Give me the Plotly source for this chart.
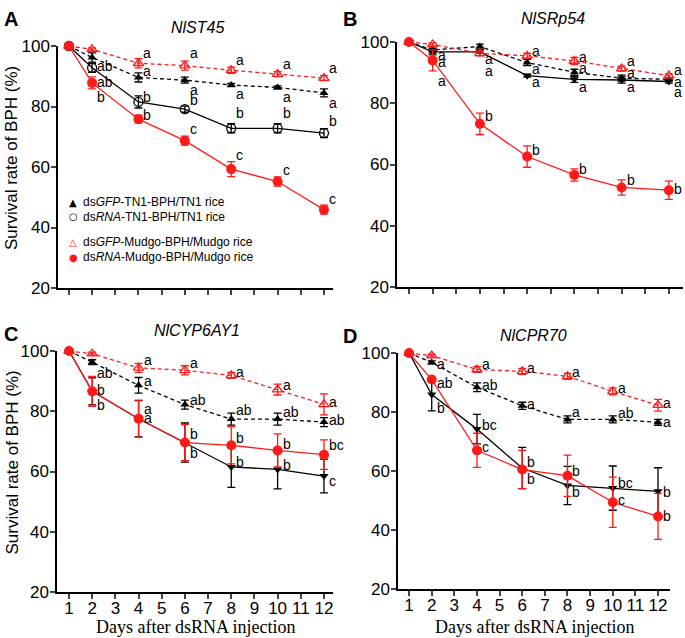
import plotly.graph_objects as go

DAYS = [1, 2, 4, 6, 8, 10, 12]
GENES = ["NlST45", "NlSRp54", "NlCYP6AY1", "NlCPR70"]
PANEL_TAGS = ["A", "B", "C", "D"]
SERIES_NAMES = [
    "ds<i>GFP</i>-TN1-BPH/TN1 rice",
    "ds<i>RNA</i>-TN1-BPH/TN1 rice",
    "ds<i>GFP</i>-Mudgo-BPH/Mudgo rice",
    "ds<i>RNA</i>-Mudgo-BPH/Mudgo rice",
]
LEGEND_KEYS = ["\u25b2", "\u25cb", "\u25b3", "\u25cf"]
X_TITLE = "Days after dsRNA injection"
Y_TITLE = "Survival rate of BPH (%)"

# panel A - NlST45
A_GFP_TN1 = [100, 96.2, 89.6, 88.7, 87.1, 86.3, 84.5]
A_GFP_TN1_ERR = [0, 1.5, 1.5, 1.0, 0.5, 0.5, 1.3]
A_RNA_TN1 = [100, 92.8, 81.5, 79.1, 72.8, 72.8, 71.2]
A_RNA_TN1_ERR = [0, 1.5, 2.0, 1.0, 1.5, 1.5, 1.5]
A_GFP_MUD = [100, 98.9, 94.3, 93.5, 92.0, 90.7, 89.4]
A_GFP_MUD_ERR = [0, 0.5, 1.5, 1.5, 1.0, 0.8, 0.8]
A_RNA_MUD = [100, 87.8, 75.8, 68.7, 59.3, 55.2, 45.9]
A_RNA_MUD_ERR = [0, 2.0, 1.3, 1.5, 2.5, 1.5, 1.5]
A_LETTERS = [
    (2, 101.1, "a"), (2, 93.4, "ab"), (2, 88.0, "ab"), (2, 83.0, "b"),
    (4, 97.6, "a"), (4, 91.7, "a"), (4, 83.2, "b"), (4, 77.1, "b"),
    (6, 97.6, "a"), (6, 85.6, "a"), (6, 82.3, "b"), (6, 72.7, "c"),
    (8, 95.4, "a"), (8, 84.1, "a"), (8, 77.8, "b"), (8, 64.1, "c"),
    (10, 93.9, "a"), (10, 83.2, "a"), (10, 77.8, "b"), (10, 58.9, "c"),
    (12, 92.6, "a"), (12, 81.0, "a"), (12, 75.2, "b"), (12, 49.5, "c"),
]

# panel B - NlSRp54
B_GFP_TN1 = [100, 97.4, 98.5, 93.3, 90.1, 88.2, 87.8]
B_GFP_TN1_ERR = [0, 1.0, 0.8, 1.0, 1.0, 1.0, 0.5]
B_RNA_TN1 = [100, 96.8, 96.8, 89.0, 87.8, 87.6, 87.1]
B_RNA_TN1_ERR = [0, 1.0, 0.5, 0.5, 1.0, 1.0, 0.5]
B_GFP_MUD = [100, 99.2, 96.3, 95.5, 93.8, 91.3, 89.0]
B_GFP_MUD_ERR = [0, 0.5, 0.8, 0.8, 1.2, 0.8, 0.6]
B_RNA_MUD = [100, 94.0, 73.3, 62.6, 56.6, 52.5, 51.6]
B_RNA_MUD_ERR = [0, 3.4, 3.5, 3.5, 2.0, 2.5, 3.0]
B_LETTERS = [
    (2, 101.3, "a"), (2, 95.9, "a"), (2, 93.5, "a"), (2, 87.4, "a"),
    (4, 101.2, "a"), (4, 94.3, "a"), (4, 90.4, "a"), (4, 75.7, "b"),
    (6, 97.2, "a"), (6, 91.2, "a"), (6, 87.1, "a"), (6, 64.8, "b"),
    (8, 95.2, "a"), (8, 91.4, "a"), (8, 85.2, "a"), (8, 58.5, "b"),
    (10, 93.8, "a"), (10, 90.0, "a"), (10, 85.2, "a"), (10, 55.0, "b"),
    (12, 90.9, "a"), (12, 87.1, "a"), (12, 83.8, "a"), (12, 52.1, "b"),
]

# panel C - NlCYP6AY1
C_GFP_TN1 = [100, 96.3, 88.6, 82.2, 77.4, 77.4, 76.4]
C_GFP_TN1_ERR = [0, 0.8, 2.6, 1.5, 2.0, 2.0, 1.5]
C_RNA_TN1 = [100, 86.6, 77.5, 69.6, 61.5, 60.7, 58.5]
C_RNA_TN1_ERR = [0, 4.5, 6.0, 6.5, 6.8, 6.5, 5.6]
C_GFP_MUD = [100, 99.1, 94.4, 93.6, 91.9, 87.2, 82.3]
C_GFP_MUD_ERR = [0, 0.5, 1.5, 1.5, 1.0, 1.8, 3.5]
C_RNA_MUD = [100, 86.6, 77.5, 69.6, 68.7, 67.0, 65.6]
C_RNA_MUD_ERR = [0, 5.0, 6.2, 6.0, 6.2, 5.5, 4.9]
C_LETTERS = [
    (2, 101.9, "a"), (2, 92.7, "ab"), (2, 86.9, "b"), (2, 82.2, "b"),
    (4, 96.9, "a"), (4, 90.0, "a"), (4, 80.9, "a"), (4, 77.9, "a"),
    (6, 96.0, "a"), (6, 83.8, "ab"), (6, 72.3, "b"), (6, 66.1, "b"),
    (8, 93.0, "a"), (8, 80.5, "ab"), (8, 71.2, "b"), (8, 63.1, "b"),
    (10, 88.6, "a"), (10, 79.8, "ab"), (10, 69.2, "b"), (10, 62.0, "b"),
    (12, 83.1, "a"), (12, 77.0, "ab"), (12, 68.7, "bc"), (12, 57.0, "c"),
]

# panel D - NlCPR70
D_GFP_TN1 = [100, 96.8, 88.4, 82.1, 77.5, 77.5, 76.5]
D_GFP_TN1_ERR = [0, 0.5, 1.5, 1.2, 1.2, 1.2, 1.0]
D_RNA_TN1 = [100, 85.9, 74.2, 61.0, 55.1, 54.2, 53.1]
D_RNA_TN1_ERR = [0, 5.5, 5.0, 7.0, 6.5, 7.5, 8.0]
D_GFP_MUD = [100, 99.1, 94.4, 93.8, 92.1, 87.0, 82.3]
D_GFP_MUD_ERR = [0, 0.5, 1.0, 1.0, 1.0, 1.2, 2.0]
D_RNA_MUD = [100, 91.0, 67.0, 60.5, 58.4, 49.4, 44.6]
D_RNA_MUD_ERR = [0, 0.5, 5.8, 6.5, 7.0, 8.5, 7.8]
D_LETTERS = [
    (2, 100.2, "a"), (2, 96.4, "a"), (2, 89.8, "ab"), (2, 81.4, "b"),
    (4, 96.4, "a"), (4, 89.3, "ab"), (4, 75.7, "bc"), (4, 68.0, "c"),
    (6, 94.9, "a"), (6, 82.8, "a"), (6, 62.9, "b"), (6, 57.3, "b"),
    (8, 93.4, "a"), (8, 79.9, "a"), (8, 60.1, "b"), (8, 52.8, "b"),
    (10, 88.1, "a"), (10, 79.7, "ab"), (10, 55.9, "bc"), (10, 50.3, "c"),
    (12, 83.1, "a"), (12, 76.5, "a"), (12, 52.8, "b"), (12, 44.9, "b"),
]

FONT = "Arial, Liberation Sans, sans-serif"
SERIF = "Times New Roman, Liberation Serif, serif"
BLACK = "#000000"
RED = "#ff1a1a"

panels = [
    ([A_GFP_TN1, A_RNA_TN1, A_GFP_MUD, A_RNA_MUD],
     [A_GFP_TN1_ERR, A_RNA_TN1_ERR, A_GFP_MUD_ERR, A_RNA_MUD_ERR], A_LETTERS),
    ([B_GFP_TN1, B_RNA_TN1, B_GFP_MUD, B_RNA_MUD],
     [B_GFP_TN1_ERR, B_RNA_TN1_ERR, B_GFP_MUD_ERR, B_RNA_MUD_ERR], B_LETTERS),
    ([C_GFP_TN1, C_RNA_TN1, C_GFP_MUD, C_RNA_MUD],
     [C_GFP_TN1_ERR, C_RNA_TN1_ERR, C_GFP_MUD_ERR, C_RNA_MUD_ERR], C_LETTERS),
    ([D_GFP_TN1, D_RNA_TN1, D_GFP_MUD, D_RNA_MUD],
     [D_GFP_TN1_ERR, D_RNA_TN1_ERR, D_GFP_MUD_ERR, D_RNA_MUD_ERR], D_LETTERS),
]

# pixel boxes of the four plot areas (left, right, top, bottom) and x ranges
W, H = 685, 638
boxes = [(58, 333, 46, 288), (397, 683, 42, 287), (57, 333, 351, 592), (398, 670, 353, 589)]
xranges = [[0.53, 12.39], [0.49, 12.6], [0.48, 12.39], [0.51, 12.53]]
title_pos = [(197, 27), (553, 18), (197, 330), (533, 335)]
tag_pos = [(2, 6), (341, 6), (2, 321), (341, 323)]


def px(x, y):
    return x / W, 1 - y / H


def series_styles(panel):
    rna_tn1_marker = dict(symbol="circle-open", size=9, color=BLACK, line=dict(width=1.3, color=BLACK))
    if panel > 0:
        rna_tn1_marker = dict(symbol="triangle-down", size=8, color=BLACK)
    return [
        (BLACK, "dash", dict(symbol="triangle-up", size=8, color=BLACK)),
        (BLACK, "solid", rna_tn1_marker),
        (RED, "dash", dict(symbol="triangle-up-open", size=9, color=RED, line=dict(width=1.3, color=RED))),
        (RED, "solid", dict(symbol="circle", size=10, color=RED)),
    ]


fig = go.Figure()
annotations = []
layout = {}


def note(x, y, text, size, **kw):
    nx, ny = px(x, y)
    d = dict(x=nx, y=ny, xref="paper", yref="paper", text=text, showarrow=False,
             font=dict(family=kw.pop("family", FONT), size=size, color=kw.pop("color", BLACK)))
    d.update(kw)
    annotations.append(d)


for p, (values, errs, letters) in enumerate(panels):
    sfx = "" if p == 0 else str(p + 1)
    xa, ya = "x" + sfx, "y" + sfx
    styles = series_styles(p)
    for s in range(4):
        col, dash, marker = styles[s]
        fig.add_trace(go.Scatter(
            x=DAYS, y=values[s], xaxis=xa, yaxis=ya,
            mode="lines+markers",
            line=dict(color=col, width=1.3, dash="4px,3px" if dash == "dash" else "solid"),
            marker=marker,
            error_y=dict(type="data", array=errs[s], color=col, thickness=1.3, width=4),
            showlegend=False, cliponaxis=False,
        ))
    for day, yv, txt in letters:
        annotations.append(dict(
            x=day, y=yv, xref=xa, yref=ya, text=txt, showarrow=False,
            xanchor="left", yanchor="middle", xshift=3,
            font=dict(family=FONT, size=14, color=BLACK),
        ))

    l, r, t, b = boxes[p]
    bottom_row = p >= 2
    left_col = p % 2 == 0
    layout["xaxis" + sfx] = dict(
        domain=[l / W, r / W], anchor=ya, range=xranges[p], automargin=False,
        tickmode="array", tickvals=list(range(1, 13)),
        showticklabels=bottom_row, ticks="outside", ticklen=5, tickwidth=1.5,
        ticklabelstandoff=-5,
        showline=True, linecolor=BLACK, linewidth=1.5, showgrid=False, zeroline=False,
        tickfont=dict(family=FONT, size=17, color=BLACK),
    )
    layout["yaxis" + sfx] = dict(
        domain=[1 - b / H, 1 - t / H], anchor=xa, range=[20, 100], automargin=False,
        tickvals=[20, 40, 60, 80, 100], ticks="outside", ticklen=5, tickwidth=1.5,
        ticklabelstandoff=-2,
        showline=True, linecolor=BLACK, linewidth=1.5, showgrid=False, zeroline=False,
        tickfont=dict(family=FONT, size=17, color=BLACK),
    )
    if bottom_row:
        note((l + r) / 2, 627, X_TITLE, 18, family=SERIF, xanchor="center", yanchor="middle")
    if left_col:
        note(12, (t + b) / 2 - 9, Y_TITLE, 17, textangle=-90, xanchor="center", yanchor="middle")
    tx, ty = title_pos[p]
    note(tx, ty, "<i>%s</i>" % GENES[p], 16, xanchor="center", yanchor="middle")
    gx, gy = tag_pos[p]
    note(gx, gy, "<b>%s</b>" % PANEL_TAGS[p], 20, xanchor="left", yanchor="top")

# legend of panel A
legend_rows = [202, 217, 242, 257]
for s in range(4):
    col = BLACK if s < 2 else RED
    note(73, legend_rows[s], LEGEND_KEYS[s], 10, family="DejaVu Sans", color=col,
         xanchor="center", yanchor="middle")
    note(81, legend_rows[s], SERIES_NAMES[s], 12, xanchor="left", yanchor="middle")

fig.update_layout(
    width=W, height=H,
    margin=dict(l=0, r=0, t=0, b=0),
    paper_bgcolor="white", plot_bgcolor="white",
    showlegend=False,
    annotations=annotations,
    **layout,
)

# the page body has a default 8px margin; drop it so the figure fills the window
fig.write_html("out.html", config={"displayModeBar": False},
               post_script="document.body.style.margin='0';")
